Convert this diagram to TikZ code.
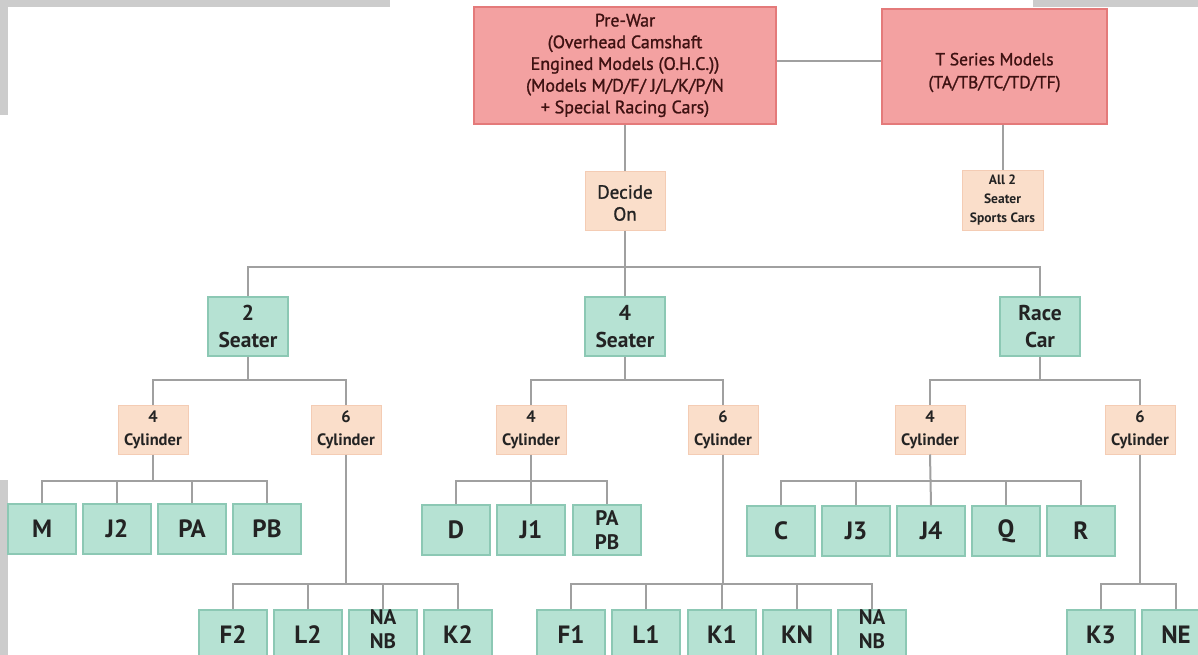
\documentclass[tikz,border=0pt]{standalone}
\usepackage{fontspec}
\setmainfont{PT Sans}
\newfontfamily\medfont[FakeBold=1.2]{PT Sans}
\definecolor{pinkfill}{RGB}{243,161,161}
\definecolor{pinkline}{RGB}{228,122,122}
\definecolor{pinktext}{RGB}{62,18,18}
\definecolor{peachfill}{RGB}{250,222,202}
\definecolor{peachline}{RGB}{244,204,180}
\definecolor{greenfill}{RGB}{182,226,211}
\definecolor{greenline}{RGB}{140,200,180}
\definecolor{wire}{RGB}{160,160,160}
\definecolor{bar}{RGB}{204,204,204}
\definecolor{ink}{RGB}{35,35,35}
\begin{document}
\begin{tikzpicture}[x=1pt,y=-1pt,
  pinkbox/.style={draw=pinkline,fill=pinkfill,line width=1.2pt,text=pinktext,align=center,inner sep=0pt,font=\medfont\fontsize{18}{21.7}\selectfont},
  peachbox/.style={draw=peachline,fill=peachfill,line width=1pt,text=ink,align=center,inner sep=0pt},
  cyl/.style={peachbox,minimum width=70pt,minimum height=49pt,font=\bfseries\fontsize{16.5}{23}\selectfont},
  greenbox/.style={draw=greenline,fill=greenfill,line width=1.2pt,text=ink,align=center,inner sep=0pt},
  mid/.style={greenbox,minimum width=80pt,minimum height=59pt,font=\bfseries\fontsize{21.5}{27}\selectfont},
  leaf/.style={greenbox,minimum width=68pt,minimum height=50pt,font=\bfseries\fontsize{25}{26}\selectfont},
  leafnn/.style={greenbox,minimum width=68pt,minimum height=50pt,font=\bfseries\fontsize{21}{24}\selectfont},
  link/.style={draw=wire,line width=2pt}]
\useasboundingbox (0,0) rectangle (1198,655);
\clip (0,0) rectangle (1198,655);
% grey bars
\fill[bar] (0,0) rectangle (390,7);
\fill[bar] (0,0) rectangle (8,115);
\fill[bar] (0,480) rectangle (8,655);
\fill[bar] (1033,0) rectangle (1198,7);

% top level
\node[pinkbox,minimum width=302pt,minimum height=117pt] (pre) at (625,65.5)
  {Pre-War\\(Overhead Camshaft\\Engined Models (O.H.C.))\\(Models M/D/F/ J/L/K/P/N\\+ Special Racing Cars)};
\node[pinkbox,minimum width=225pt,minimum height=115pt] (tser) at (994.5,66.5)
  {\raisebox{-6pt}[\height][\depth]{\parbox{210pt}{\centering\fontsize{17.5}{23}\selectfont T Series Models\\(TA/TB/TC/TD/TF)}}};
\node[peachbox,minimum width=81pt,minimum height=59pt,font=\bfseries\fontsize{13.5}{19}\selectfont] (all2) at (1002.5,200.5)
  {All 2\\Seater\\Sports Cars};
\node[peachbox,minimum width=80pt,minimum height=58pt,font=\medfont\fontsize{19}{22}\selectfont] (decide) at (625,201)
  {\raisebox{-2pt}[\height][\depth]{\parbox{78pt}{\centering Decide\\On}}};

% second level
\node[mid] (s2) at (248,326.5) {2\\Seater};
\node[mid] (s4) at (625,326.5) {4\\Seater};
\node[mid] (rc) at (1040,326.5) {Race\\Car};

% cylinder level
\node[cyl] (c2a) at (153,429.5) {4\\Cylinder};
\node[cyl] (c2b) at (346,429.5) {6\\Cylinder};
\node[cyl] (c4a) at (531,429.5) {4\\Cylinder};
\node[cyl] (c4b) at (723,429.5) {6\\Cylinder};
\node[cyl] (cra) at (930,429.5) {4\\Cylinder};
\node[cyl] (crb) at (1140,429.5) {6\\Cylinder};

% leaves row 1
\node[leaf] (M) at (42,529) {M};
\node[leaf] (J2) at (117,529) {J2};
\node[leaf] (PA) at (192,529) {PA};
\node[leaf] (PB) at (267,529) {PB};
\node[leaf] (D) at (456,530) {D};
\node[leaf] (J1) at (531,530) {J1};
\node[leafnn] (PAPB) at (607,530) {PA\\PB};
\node[leaf] (C) at (781,531) {C};
\node[leaf] (J3) at (856,531) {J3};
\node[leaf] (J4) at (931,531) {J4};
\node[leaf] (Q) at (1006,531) {Q};
\node[leaf] (R) at (1081,531) {R};

% leaves row 2
\node[leaf] (F2) at (233,635) {F2};
\node[leaf] (L2) at (308,635) {L2};
\node[leafnn] (NAB2) at (383,635) {\raisebox{6pt}[\height][\depth]{\parbox{66pt}{\centering NA\\NB}}};
\node[leaf] (K2) at (458,635) {K2};
\node[leaf] (F1) at (571,635) {F1};
\node[leaf] (L1) at (646,635) {L1};
\node[leaf] (K1) at (722,635) {K1};
\node[leaf] (KN) at (797,635) {KN};
\node[leafnn] (NAB1) at (872,635) {\raisebox{6pt}[\height][\depth]{\parbox{66pt}{\centering NA\\NB}}};
\node[leaf] (K3) at (1101,635) {K3};
\node[leaf] (NE) at (1176,635) {NE};

% bus levels
\coordinate (b1) at (0,267);
\coordinate (b2) at (0,380);
\coordinate (b3) at (0,481);
\coordinate (b4) at (0,584);

% connectors
\draw[link] ([yshift=4pt]pre.east) -- ([yshift=4pt]pre.east -| tser.west);
\draw[link] (all2.north |- tser.south) -- (all2.north);
\draw[link] (pre.south -| decide.north) -- (decide.north);
\draw[link] (decide.south) -- (s4.north);
\draw[link] (s2.north) -- (s2.north |- b1) -- (rc.north |- b1) -- (rc.north);

\foreach \p/\a/\b in {s2/c2a/c2b, s4/c4a/c4b, rc/cra/crb}{
  \draw[link] (\p.south) -- (\p.south |- b2);
  \draw[link] (\a.north) -- (\a.north |- b2) -- (\b.north |- b2) -- (\b.north);
}
% 4 cylinder groups
\draw[link] (c2a.south) -- (c2a.south |- b3);
\draw[link] (M.north) -- (M.north |- b3) -- (PB.north |- b3) -- (PB.north);
\foreach \n in {J2,PA} \draw[link] (\n.north) -- (\n.north |- b3);
\draw[link] (c4a.south) -- (J1.north);
\draw[link] (D.north) -- (D.north |- b3) -- (PAPB.north |- b3) -- (PAPB.north);
\draw[link] (cra.south) -- (J4.north);
\draw[link] (C.north) -- (C.north |- b3) -- (R.north |- b3) -- (R.north);
\foreach \n in {J3,Q} \draw[link] (\n.north) -- (\n.north |- b3);
% 6 cylinder groups
\draw[link] (c2b.south) -- (c2b.south |- b4);
\draw[link] (F2.north) -- (F2.north |- b4) -- (K2.north |- b4) -- (K2.north);
\foreach \n in {L2,NAB2} \draw[link] (\n.north) -- (\n.north |- b4);
\draw[link] (c4b.south) -- (c4b.south |- b4);
\draw[link] (F1.north) -- (F1.north |- b4) -- (NAB1.north |- b4) -- (NAB1.north);
\foreach \n in {L1,K1,KN} \draw[link] (\n.north) -- (\n.north |- b4);
\draw[link] (crb.south) -- (crb.south |- b4);
\draw[link] (K3.north) -- (K3.north |- b4) -- (NE.north |- b4) -- (NE.north);
\end{tikzpicture}
\end{document}
